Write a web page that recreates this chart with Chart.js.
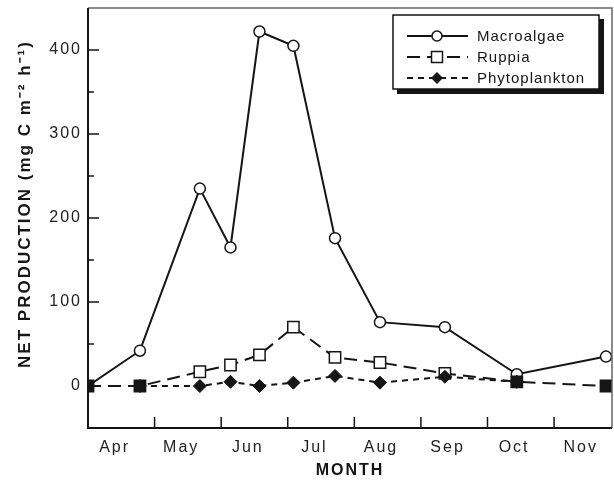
<!DOCTYPE html>
<html>
<head>
<meta charset="utf-8">
<script src="https://cdn.jsdelivr.net/npm/chart.js@4/dist/chart.umd.min.js"></script>
<style>
  body { margin: 0; background: #fff; }
  canvas { display: block; }
</style>
</head>
<body>
<canvas id="production" width="614" height="484"></canvas>
<script>
// month labels on the x axis (x values are months since 1 Apr)
const months = ['Apr', 'May', 'Jun', 'Jul', 'Aug', 'Sep', 'Oct', 'Nov'];

// sampling dates, in months since 1 Apr
const sampleDates = [0, 0.78, 1.68, 2.14, 2.575, 3.085, 3.71, 4.385, 5.36, 6.44, 7.78];

// net production, mg C m-2 h-1
const macroalgae = [0, 42, 235, 165, 422, 405, 176, 76, 70, 14, 35];
const ruppia = [0, 0, 17, 25, 37, 70, 34, 28, 15, 5, 0];
const ruppiaNone = [true, true, false, false, false, false, false, false, false, true, true];
const phytoDates = [0.78, 1.68, 2.14, 2.575, 3.085, 3.71, 4.385, 5.36, 6.44];
const phytoplankton = [0, 0, 5, 0, 4, 12, 4, 11, 5];

const yTicks = [0, 100, 200, 300, 400];

function pts(xs, ys) {
  return xs.map((x, i) => ({ x: x, y: ys[i] }));
}

const ink = '#151515';
const font = 'Liberation Sans, Arial, Helvetica, sans-serif';

// fixed plot box, no extra label padding
function fitBox(s, size) {
  if (s.isHorizontal()) s.height = size; else s.width = size;
  s.paddingTop = 0;
  s.paddingBottom = 0;
  s.paddingLeft = 0;
  s.paddingRight = 0;
}

const frame = {
  id: 'frame',
  beforeDraw(chart) {
    chart.ctx.letterSpacing = '2px';
  },
  afterDraw(chart) {
    const ctx = chart.ctx;
    const a = chart.chartArea;
    const xs = chart.scales.x;
    const ys = chart.scales.y;
    ctx.save();
    ctx.letterSpacing = '0px';

    // top and right border, thin grey
    ctx.strokeStyle = '#666';
    ctx.lineWidth = 1.5;
    ctx.beginPath();
    ctx.moveTo(a.left, a.top);
    ctx.lineTo(a.right, a.top);
    ctx.lineTo(a.right, a.bottom);
    ctx.stroke();

    // left and bottom axes
    ctx.strokeStyle = ink;
    ctx.lineWidth = 2;
    ctx.beginPath();
    ctx.moveTo(a.left, a.top);
    ctx.lineTo(a.left, a.bottom);
    ctx.lineTo(a.right, a.bottom);
    ctx.stroke();

    // inward ticks
    ctx.lineWidth = 1.5;
    ctx.beginPath();
    for (let v = 0; v <= 400; v += 50) {
      const py = ys.getPixelForValue(v);
      ctx.moveTo(a.left, py);
      ctx.lineTo(a.left + (v % 100 === 0 ? 11 : 6), py);
    }
    for (let m = 1; m < months.length; m++) {
      const px = xs.getPixelForValue(m);
      ctx.moveTo(px, a.bottom);
      ctx.lineTo(px, a.bottom - 11);
    }
    ctx.stroke();

    // axis titles
    ctx.fillStyle = ink;
    ctx.letterSpacing = '2px';
    ctx.font = 'bold 16px ' + font;
    ctx.textAlign = 'center';
    ctx.textBaseline = 'middle';
    ctx.fillText('MONTH', 350, 471);
    ctx.font = 'bold 17px ' + font;
    ctx.translate(25, 204);
    ctx.rotate(-Math.PI / 2);
    ctx.fillText('NET PRODUCTION (mg C m\u207B\u00B2 h\u207B\u00B9)', 0, 0);
    ctx.restore();

    // legend box with drop shadow
    ctx.save();
    ctx.letterSpacing = '0px';
    const bx = 393, by = 15, bw = 206, bh = 74;
    ctx.fillStyle = '#fff';
    ctx.fillRect(bx, by, bw, bh);
    ctx.fillStyle = ink;
    ctx.fillRect(bx + 4, by + bh, bw, 5);
    ctx.fillRect(bx + bw, by + 4, 5, bh + 1);
    ctx.strokeStyle = ink;
    ctx.lineWidth = 1.5;
    ctx.strokeRect(bx, by, bw, bh);

    chart.data.datasets.forEach((ds, i) => {
      const y = 36 + 21 * i;
      ctx.strokeStyle = ink;
      ctx.lineWidth = ds.borderWidth;
      ctx.setLineDash(ds.borderDash || []);
      ctx.beginPath();
      ctx.moveTo(407, y);
      ctx.lineTo(468, y);
      ctx.stroke();
      ctx.setLineDash([]);
      const cx = 437;
      ctx.lineWidth = 1.5;
      ctx.beginPath();
      if (ds.pointStyle === 'circle') {
        ctx.arc(cx, y, 5, 0, Math.PI * 2);
        ctx.fillStyle = '#fff';
        ctx.fill();
        ctx.stroke();
      } else if (ds.pointStyle === 'rect') {
        ctx.rect(cx - 5.5, y - 5.5, 11, 11);
        ctx.fillStyle = '#fff';
        ctx.fill();
        ctx.stroke();
      } else {
        ctx.moveTo(cx, y - 6);
        ctx.lineTo(cx + 6, y);
        ctx.lineTo(cx, y + 6);
        ctx.lineTo(cx - 6, y);
        ctx.closePath();
        ctx.fillStyle = ink;
        ctx.fill();
      }
      ctx.fillStyle = ink;
      ctx.letterSpacing = '1px';
      ctx.font = '15px ' + font;
      ctx.textAlign = 'left';
      ctx.textBaseline = 'middle';
      ctx.fillText(ds.label, 477, y + 1);
      ctx.letterSpacing = '0px';
    });
    ctx.restore();
  }
};

new Chart(document.getElementById('production'), {
  type: 'line',
  data: {
    datasets: [
      {
        label: 'Macroalgae',
        data: pts(sampleDates, macroalgae),
        borderColor: ink,
        borderWidth: 2,
        pointStyle: 'circle',
        pointRadius: 5.5,
        pointBorderWidth: 1.5,
        pointBorderColor: ink,
        pointBackgroundColor: '#fff',
        order: 3
      },
      {
        label: 'Ruppia',
        data: pts(sampleDates, ruppia),
        borderColor: ink,
        borderWidth: 2,
        borderDash: [13, 7],
        pointStyle: 'rect',
        pointRadius: 8,
        pointBorderWidth: 1.5,
        pointBorderColor: ink,
        pointBackgroundColor: (c) => (ruppiaNone[c.dataIndex] ? ink : '#fff'),
        order: 2
      },
      {
        label: 'Phytoplankton',
        data: pts(phytoDates, phytoplankton),
        borderColor: ink,
        borderWidth: 2,
        borderDash: [6, 5],
        pointStyle: 'rectRot',
        pointRadius: 6.5,
        pointBorderWidth: 1,
        pointBorderColor: ink,
        pointBackgroundColor: ink,
        order: 1
      }
    ]
  },
  options: {
    responsive: false,
    animation: false,
    layout: { autoPadding: false, padding: { top: 8, right: 2, left: 0, bottom: 0 } },
    plugins: {
      legend: { display: false },
      tooltip: { enabled: false }
    },
    scales: {
      x: {
        type: 'linear',
        min: 0,
        max: 7.87,
        grid: { display: false },
        border: { display: false },
        afterFit: (s) => fitBox(s, 56),
        afterBuildTicks: (s) => {
          s.ticks = months.map((m, i) => ({ value: i + 0.4 }));
        },
        ticks: {
          padding: 2,
          color: '#222',
          font: { family: font, size: 16 },
          maxRotation: 0,
          autoSkip: false,
          callback: (v, i) => months[i]
        }
      },
      y: {
        min: -50,
        max: 450,
        grid: { display: false },
        border: { display: false },
        afterFit: (s) => fitBox(s, 88),
        afterBuildTicks: (s) => {
          s.ticks = yTicks.map((v) => ({ value: v }));
        },
        ticks: {
          padding: -2,
          color: '#222',
          font: { family: font, size: 16 }
        }
      }
    }
  },
  plugins: [frame]
});
</script>
</body>
</html>
